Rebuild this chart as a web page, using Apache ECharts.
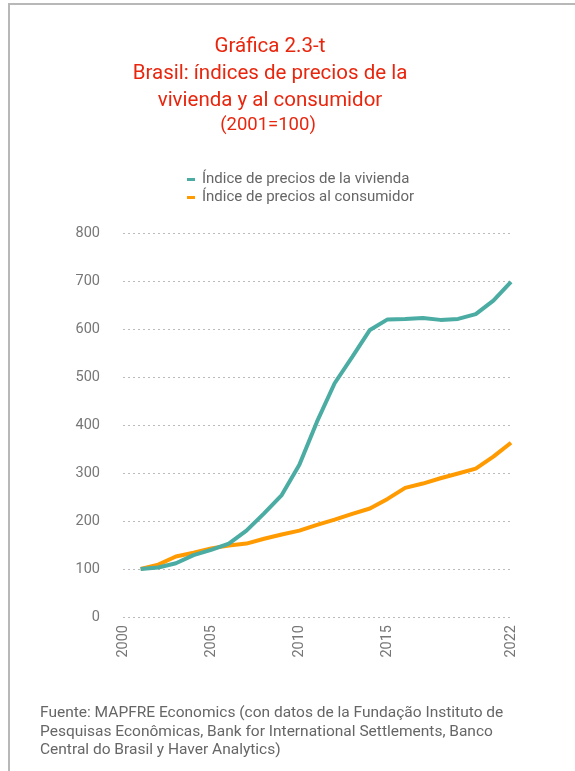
<!DOCTYPE html>
<html><head><meta charset="utf-8">
<script src="https://cdn.jsdelivr.net/npm/echarts@6/dist/echarts.min.js"></script>
<style>html,body{margin:0;padding:0;background:#fff}#c{width:575px;height:771px}</style>
</head><body><div id="c"></div>
<script>
const years = ['2000','2001','2002','2003','2004','2005','2006','2007','2008','2009','2010','2011','2012','2013','2014','2015','2016','2017','2018','2019','2020','2021','2022'];
const xTickLabels = ['2000','2005','2010','2015','2022'];
const yTicks = [0,100,200,300,400,500,600,700,800];
const housing = [null,100,103,112,129,140,153,180,216,254,317,407,487,542,598,620,621,623,619,621,631,659,698];
const consumer = [null,100,109,126,134,143,149,153,163,172,180,192,203,215,226,246,269,278,289,299,309,334,363];
const seriesNames = ['Índice de precios de la vivienda','Índice de precios al consumidor'];
const titleLines = ['Gráfica 2.3-t','Brasil: índices de precios de la','vivienda y al consumidor'];
const subtitle = '(2001=100)';
const source = 'Fuente: MAPFRE Economics (con datos de la Fundação Instituto de\nPesquisas Econômicas, Bank for International Settlements, Banco\nCentral do Brasil y Haver Analytics)';

const FONT = 'Roboto';
const chart = echarts.init(document.getElementById('c'));
chart.setOption({
  backgroundColor:'#fff',
  animation:false,
  title:[
    {text:titleLines.join('\n'), left:270, top:33, textAlign:'center', padding:0,
     textStyle:{fontFamily:FONT,fontSize:20.5,fontWeight:'normal',color:'#e8260e',lineHeight:27}},
    {text:subtitle, left:268, top:116, textAlign:'center', padding:0,
     textStyle:{fontFamily:FONT,fontSize:18.5,fontWeight:'normal',color:'#e8260e'}},
    {text:source, left:40, top:704, padding:0,
     textStyle:{fontFamily:FONT,fontSize:15.5,fontWeight:'normal',color:'#666',lineHeight:18.5}}
  ],
  legend:{
    orient:'vertical', left:187, top:172, itemGap:3, itemWidth:8, itemHeight:3,
    padding:0, icon:'rect',
    textStyle:{fontFamily:FONT,fontSize:15,color:'#666',padding:[0,0,0,2]},
    data:seriesNames
  },
  grid:{left:123,right:64,top:233,bottom:154,containLabel:false},
  xAxis:{
    type:'category', data:years, boundaryGap:false,
    axisLine:{show:false}, axisTick:{show:false},
    axisLabel:{rotate:90, fontFamily:FONT, fontSize:14.5, color:'#777', margin:8,
      interval:function(i,v){return xTickLabels.indexOf(v)>=0;}}
  },
  yAxis:{
    type:'value', min:yTicks[0], max:yTicks[yTicks.length-1], interval:100,
    axisLine:{show:false}, axisTick:{show:false},
    axisLabel:{fontFamily:FONT,fontSize:14.5,color:'#777',margin:23},
    splitLine:{lineStyle:{type:[2,3],color:'#bbb',width:1}}
  },
  series:[
    {name:seriesNames[0], type:'line', data:housing, symbol:'none', color:'#4aaca3',
     lineStyle:{width:4,color:'#4aaca3'}, z:3},
    {name:seriesNames[1], type:'line', data:consumer, symbol:'none', color:'#ff9a00',
     lineStyle:{width:4,color:'#ff9a00'}, z:2}
  ],
  graphic:[
    {type:'line', shape:{x1:9,y1:4,x2:575,y2:4}, style:{stroke:'#b8b8b8',lineWidth:2}},
    {type:'line', shape:{x1:9,y1:3,x2:9,y2:771}, style:{stroke:'#b8b8b8',lineWidth:2}}
  ]
});
</script></body></html>
